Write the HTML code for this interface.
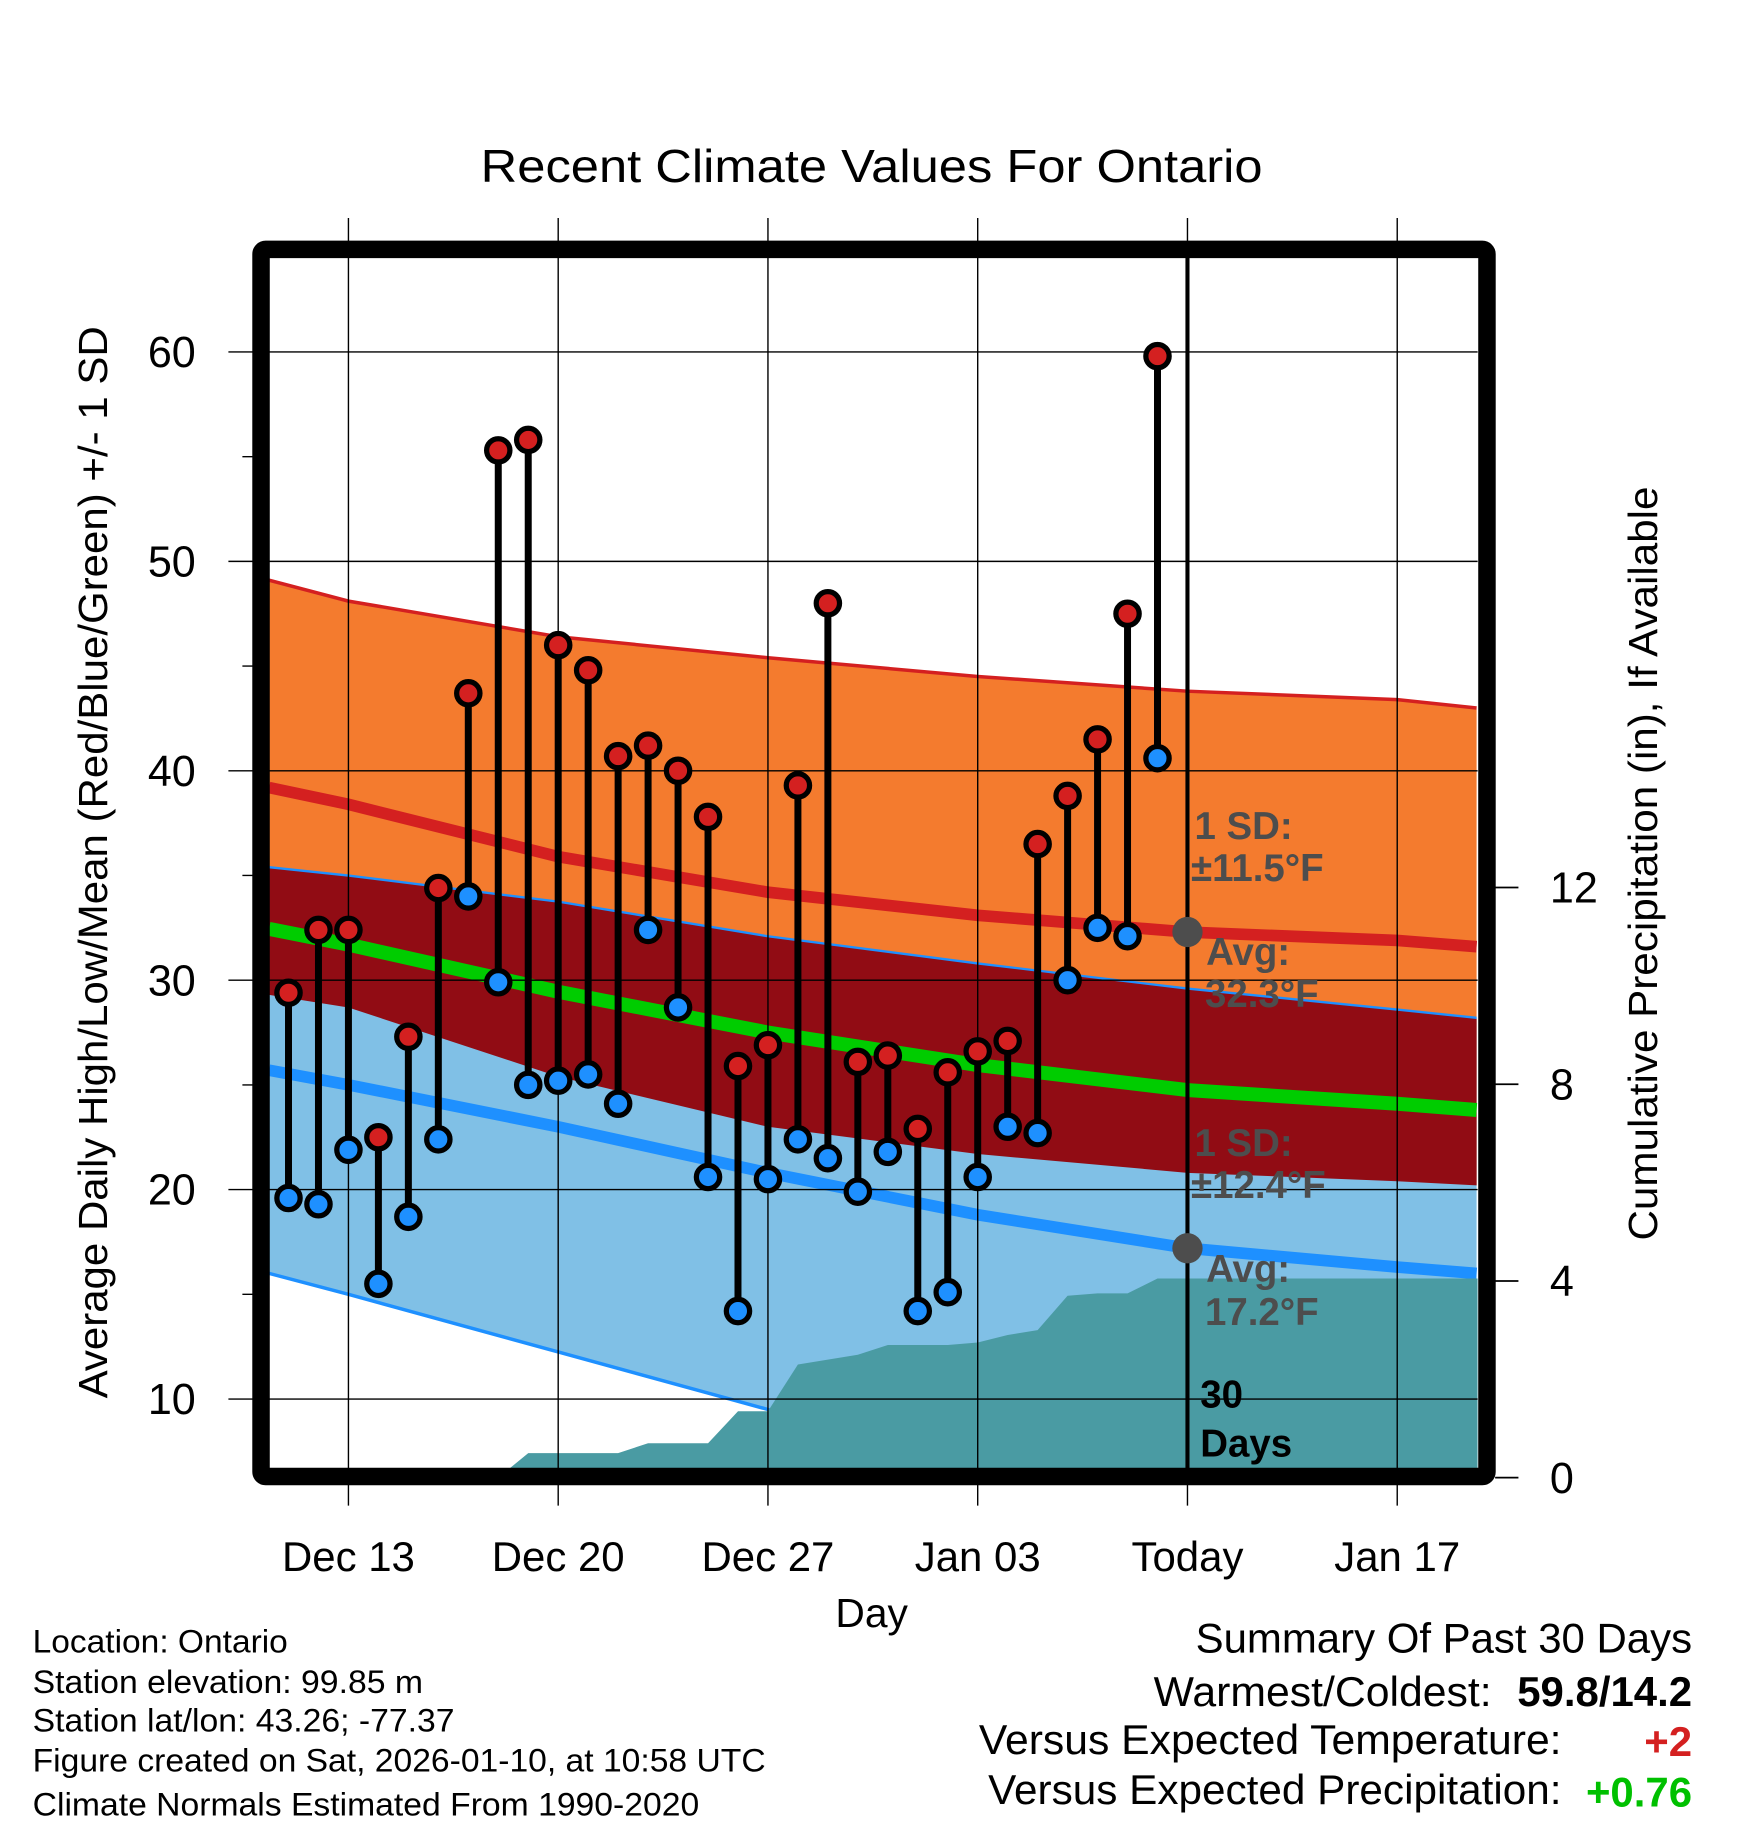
<!DOCTYPE html>
<html><head><meta charset="utf-8"><style>
html,body{margin:0;padding:0;background:#fff}
svg{display:block;font-family:"Liberation Sans",Arial,sans-serif}
</style></head><body>
<svg id="chart" width="1748" height="1828" viewBox="0 0 1500 1568.6" xmlns="http://www.w3.org/2000/svg">
<g id="bands"></g>
<g id="precip"></g>
<g id="grid"></g>
<g id="marks"></g>
<g id="today"></g>
<rect x="224" y="214" width="1052" height="1053" fill="none" stroke="#000" stroke-width="15" rx="4"/>
<g id="axes"></g>
<text x="748" y="156" font-size="40" text-anchor="middle" textLength="671" lengthAdjust="spacingAndGlyphs">Recent Climate Values For Ontario</text>
<text transform="translate(92,740) rotate(-90)" font-size="35" text-anchor="middle" textLength="920" lengthAdjust="spacingAndGlyphs">Average Daily High/Low/Mean (Red/Blue/Green) +/- 1 SD</text>
<text transform="translate(1422,741) rotate(-90)" font-size="35" text-anchor="middle" textLength="647" lengthAdjust="spacingAndGlyphs">Cumulative Precipitation (in), If Available</text>
<text x="748" y="1396" font-size="35" text-anchor="middle">Day</text>
<g font-size="28">
<text x="28" y="1418" textLength="219" lengthAdjust="spacingAndGlyphs">Location: Ontario</text>
<text x="28" y="1453" textLength="335" lengthAdjust="spacingAndGlyphs">Station elevation: 99.85 m</text>
<text x="28" y="1486" textLength="362" lengthAdjust="spacingAndGlyphs">Station lat/lon: 43.26; -77.37</text>
<text x="28" y="1520" textLength="629" lengthAdjust="spacingAndGlyphs">Figure created on Sat, 2026-01-10, at 10:58 UTC</text>
<text x="28" y="1558" textLength="572" lengthAdjust="spacingAndGlyphs">Climate Normals Estimated From 1990-2020</text>
</g>
<g font-size="36">
<text x="1452" y="1418" text-anchor="end" textLength="426" lengthAdjust="spacingAndGlyphs">Summary Of Past 30 Days</text>
<text x="1280" y="1464" text-anchor="end" textLength="290" lengthAdjust="spacingAndGlyphs">Warmest/Coldest:</text>
<text x="1452" y="1464" text-anchor="end" font-weight="bold" textLength="150" lengthAdjust="spacingAndGlyphs">59.8/14.2</text>
<text x="1340" y="1505" text-anchor="end" textLength="500" lengthAdjust="spacingAndGlyphs">Versus Expected Temperature:</text>
<text x="1452" y="1507" text-anchor="end" font-weight="bold" fill="#d42020">+2</text>
<text x="1340" y="1548" text-anchor="end" textLength="492" lengthAdjust="spacingAndGlyphs">Versus Expected Precipitation:</text>
<text x="1452" y="1550" text-anchor="end" font-weight="bold" fill="#00c000">+0.76</text>
</g>
</svg>
<script>
// Daily observations: Dec 11 .. Jan 9 (day offset from Dec 13)
const obsStart = -2;
const highs = [29.4,32.4,32.4,22.5,27.3,34.4,43.7,55.3,55.8,46.0,44.8,40.7,41.2,40.0,37.8,25.9,26.9,39.3,48.0,26.1,26.4,22.9,25.6,26.6,27.1,36.5,38.8,41.5,47.5,59.8];
const lows = [19.6,19.3,21.9,15.5,18.7,22.4,34.0,29.9,25.0,25.2,25.5,24.1,32.4,28.7,20.6,14.2,20.5,22.4,21.5,19.9,21.8,14.2,15.1,20.6,23.0,22.7,30.0,32.5,32.1,40.6];
const precip = [0,0,0,0,0,0,0,0,0.5,0.5,0.5,0.5,0.7,0.7,0.7,1.35,1.35,2.3,2.4,2.5,2.7,2.7,2.7,2.75,2.9,3.0,3.7,3.75,3.75,4.05];
// Normals at anchor days (offset from Dec 13)
const normDays = [-2.65,0,7,14,21,28,35,37.65];
const highMean = [39.2,38.4,35.9,34.2,33.1,32.3,31.9,31.6];
const highSD = [9.9,9.7,10.5,11.2,11.4,11.5,11.5,11.4];
const lowMean = [25.7,25.0,23.0,20.8,18.8,17.2,16.3,16.0];
const lowSD = [9.7,10.0,10.75,11.3,12.0,12.4,12.3,12.2];
const xTickDays = [0,7,14,21,28,35];
const xTickLabels = ["Dec 13","Dec 20","Dec 27","Jan 03","Today","Jan 17"];
const yTicks = [10,20,30,40,50,60];
const y2Ticks = [0,4,8,12];
const todayDay = 28;
const todayIdx = 5;

const NS="http://www.w3.org/2000/svg";
const X0=231,X1=1268,Y0=221,Y1=1260;
const x=d=>299+25.714*d;
const y=v=>302+(60-v)*17.97;
const yp=p=>1268-p*42.2;
function mk(tag,attrs,parent){const e=document.createElementNS(NS,tag);for(const k in attrs)e.setAttribute(k,attrs[k]);parent.appendChild(e);return e;}
const bands=document.getElementById('bands');
const defs=mk('defs',{},document.getElementById('chart'));
const cp=mk('clipPath',{id:'clip'},defs);
mk('rect',{x:X0,y:Y0,width:X1-X0,height:Y1-Y0},cp);
bands.setAttribute('clip-path','url(#clip)');
const pts=f=>normDays.map((d,i)=>x(d).toFixed(1)+','+y(f(i)).toFixed(1));
const band=(up,lo)=>pts(up).join(' ')+' '+pts(lo).reverse().join(' ');
let e;
e=mk('polygon',{points:band(i=>highMean[i]+highSD[i],i=>highMean[i]-highSD[i]),fill:'#f47b2e'},bands);

e=mk('polygon',{points:band(i=>lowMean[i]+lowSD[i],i=>lowMean[i]-lowSD[i]),fill:'#80c0e6'},bands);

e=mk('polygon',{points:band(i=>Math.min(highMean[i]+highSD[i],lowMean[i]+lowSD[i]),i=>Math.max(highMean[i]-highSD[i],lowMean[i]-lowSD[i])),fill:'#910c14'},bands);

e=mk('polyline',{points:pts(i=>highMean[i]+highSD[i]).join(' '),fill:'none',stroke:'#d42020','stroke-width':3},bands);

e=mk('polyline',{points:pts(i=>lowMean[i]+lowSD[i]).join(' '),fill:'none',stroke:'#1e90ff','stroke-width':2},bands);

e=mk('polyline',{points:pts(i=>lowMean[i]-lowSD[i]).join(' '),fill:'none',stroke:'#1e90ff','stroke-width':3},bands);

e=mk('polyline',{points:pts(i=>highMean[i]).join(' '),fill:'none',stroke:'#d42020','stroke-width':10},bands);

e=mk('polyline',{points:pts(i=>lowMean[i]).join(' '),fill:'none',stroke:'#1e90ff','stroke-width':10},bands);

e=mk('polyline',{points:pts(i=>(highMean[i]+lowMean[i])/2).join(' '),fill:'none',stroke:'#00cc00','stroke-width':12},bands);

// precipitation
const pg=document.getElementById('precip');
pg.setAttribute('clip-path','url(#clip)');
let pp=[];
precip.forEach((p,i)=>pp.push(x(obsStart+i).toFixed(1)+','+yp(p).toFixed(1)));
pp.push(X1+','+yp(precip[precip.length-1]).toFixed(1));
pp.push(X1+','+yp(0));pp.push(x(obsStart)+','+yp(0));
e=mk('polygon',{points:pp.join(' '),fill:'#4a9ba3'},pg);

// grid
const g=document.getElementById('grid');
xTickDays.forEach(d=>{e=mk('line',{x1:x(d),x2:x(d),y1:187,y2:1292,stroke:'#000','stroke-width':1.2},g);
});
yTicks.forEach(v=>{e=mk('line',{x1:196,x2:X1,y1:y(v),y2:y(v),stroke:'#000','stroke-width':1.2},g);
});
[15,25,35,45,55].forEach(v=>{e=mk('line',{x1:208,x2:224,y1:y(v),y2:y(v),stroke:'#000','stroke-width':1.2},g);
});
// marks
const m=document.getElementById('marks');
highs.forEach((h,i)=>{const xx=x(obsStart+i);
e=mk('line',{x1:xx,x2:xx,y1:y(h),y2:y(lows[i]),stroke:'#000','stroke-width':6},m);
});
highs.forEach((h,i)=>{const xx=x(obsStart+i);
e=mk('circle',{cx:xx,cy:y(h),r:10,fill:'#d42020',stroke:'#000','stroke-width':4.5},m);

e=mk('circle',{cx:xx,cy:y(lows[i]),r:10,fill:'#1e90ff',stroke:'#000','stroke-width':4.5},m);
});
// today annotations
const t=document.getElementById('today');
const tx=x(todayDay);
e=mk('line',{x1:tx,x2:tx,y1:221,y2:1260,stroke:'#000','stroke-width':3.5},t);

e=mk('circle',{cx:tx,cy:y(highMean[todayIdx]),r:13,fill:'#4d4d4d'},t);

e=mk('circle',{cx:tx,cy:y(lowMean[todayIdx]),r:13,fill:'#4d4d4d'},t);

const lbl=[["1 SD:",1025,720],["±11.5°F",1022,756],["Avg:",1035,828],["32.3°F",1034,864],["1 SD:",1025,992],["±12.4°F",1022,1028],["Avg:",1035,1100],["17.2°F",1034,1137]];
lbl.forEach(a=>{e=mk('text',{x:a[1],y:a[2],'font-size':33,'font-weight':'bold',fill:'#4d4d4d'},t);e.textContent=a[0];
});
[["30",1208],["Days",1250]].forEach(a=>{e=mk('text',{x:1030,y:a[1],'font-size':33,'font-weight':'bold',fill:'#000'},t);e.textContent=a[0];
});
// axes labels
const ax=document.getElementById('axes');
xTickDays.forEach((d,i)=>{e=mk('text',{x:x(d),y:1348,'font-size':36,'text-anchor':'middle'},ax);e.textContent=xTickLabels[i];
});
yTicks.forEach(v=>{e=mk('text',{x:168,y:y(v)+13,'font-size':37,'text-anchor':'end'},ax);e.textContent=v;
});
y2Ticks.forEach(p=>{e=mk('line',{x1:1283,x2:1303,y1:yp(p),y2:yp(p),stroke:'#000','stroke-width':1.5},ax);

e=mk('text',{x:1330,y:yp(p)+13,'font-size':37},ax);e.textContent=p;
});
</script>
</body></html>
